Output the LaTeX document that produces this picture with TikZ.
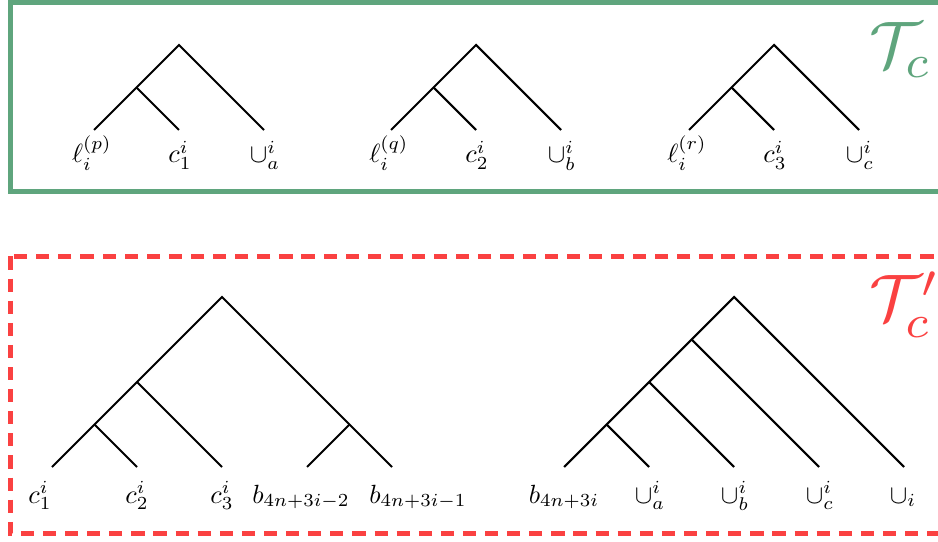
\documentclass[tikz,border=0pt]{standalone}
\usepackage{amsmath}
\definecolor{tgreen}{RGB}{95,165,125}
\definecolor{tred}{RGB}{250,65,65}
\tikzset{
  edge/.style={line width=0.8pt, black},
  lbl/.style={anchor=base, inner sep=0pt},
  greenbox/.style={draw=tgreen, line width=1.9pt},
  redbox/.style={draw=tred, line width=1.9pt, dash pattern=on 5pt off 3.4pt},
  title/.style={anchor=base west, inner sep=0pt, scale=2.5}
}
\begin{document}
\begin{tikzpicture}[x=0.38pt, y=-0.38pt]
\useasboundingbox (0,0) rectangle (938,542);
\clip (0,0) rectangle (938,542);
% boxes
\draw[greenbox] (10,2.5) rectangle (980,192);
\draw[redbox] (10,256.5) rectangle (980,533);
\node[title, text=tgreen] (tc) at (868,68) {$\mathcal{T}_c$};
\node[title, text=tred] (tcp) at (868,321) {$\mathcal{T}'_c$};
% top trees
\foreach \k/\ox/\lab/\cc/\uu in {1/0/p/1/a, 2/297/q/2/b, 3/595/r/3/c}{
  \coordinate (r\k) at (179+\ox,45);
  \coordinate (m\k) at (136.5+\ox,87.5);
  \coordinate (a\k) at (94+\ox,130);
  \coordinate (b\k) at (179+\ox,130);
  \coordinate (c\k) at (264+\ox,130);
  \draw[edge] (a\k) -- (m\k) -- (r\k) -- (c\k);
  \draw[edge] (m\k) -- (b\k);
  \node[lbl] (la\k) at (92+\ox,163) {$\ell_i^{(\lab)}$};
  \node[lbl] (lb\k) at (180+\ox,163) {$c_{\cc}^i$};
  \node[lbl] (lc\k) at (265+\ox,163) {$\cup_{\uu}^i$};
}
% bottom left tree
\coordinate (L1) at (52,467);
\coordinate (L2) at (137,467);
\coordinate (L3) at (222,467);
\coordinate (L4) at (307,467);
\coordinate (L5) at (392,467);
\coordinate (P12) at (94.5,424.5);
\coordinate (P123) at (137,382);
\coordinate (P45) at (349.5,424.5);
\coordinate (PR) at (222,297);
\draw[edge] (L1) -- (P12) -- (P123) -- (PR) -- (P45) -- (L5);
\draw[edge] (P12) -- (L2);
\draw[edge] (P123) -- (L3);
\draw[edge] (P45) -- (L4);
\node[lbl] (tl1) at (40,503) {$c_1^i$};
\node[lbl] (tl2) at (137,503) {$c_2^i$};
\node[lbl] (tl3) at (222,503) {$c_3^i$};
\node[lbl] (tl4) at (301,503) {$b_{4n+3i-2}$};
\node[lbl] (tl5) at (418,503) {$b_{4n+3i-1}$};
% bottom right tree
\coordinate (R1) at (564,467);
\coordinate (R2) at (649,467);
\coordinate (R3) at (734,467);
\coordinate (R4) at (819,467);
\coordinate (R5) at (904,467);
\coordinate (Q1) at (606.5,424.5);
\coordinate (Q2) at (649,382);
\coordinate (Q3) at (691.5,339.5);
\coordinate (QR) at (734,297);
\draw[edge] (R1) -- (Q1) -- (Q2) -- (Q3) -- (QR) -- (R5);
\draw[edge] (Q1) -- (R2);
\draw[edge] (Q2) -- (R3);
\draw[edge] (Q3) -- (R4);
\node[lbl] (tr1) at (564,503) {$b_{4n+3i}$};
\node[lbl] (tr2) at (650,503) {$\cup_a^i$};
\node[lbl] (tr3) at (735,503) {$\cup_b^i$};
\node[lbl] (tr4) at (820,503) {$\cup_c^i$};
\node[lbl] (tr5) at (903,503) {$\cup_i$};
\end{tikzpicture}
\end{document}
